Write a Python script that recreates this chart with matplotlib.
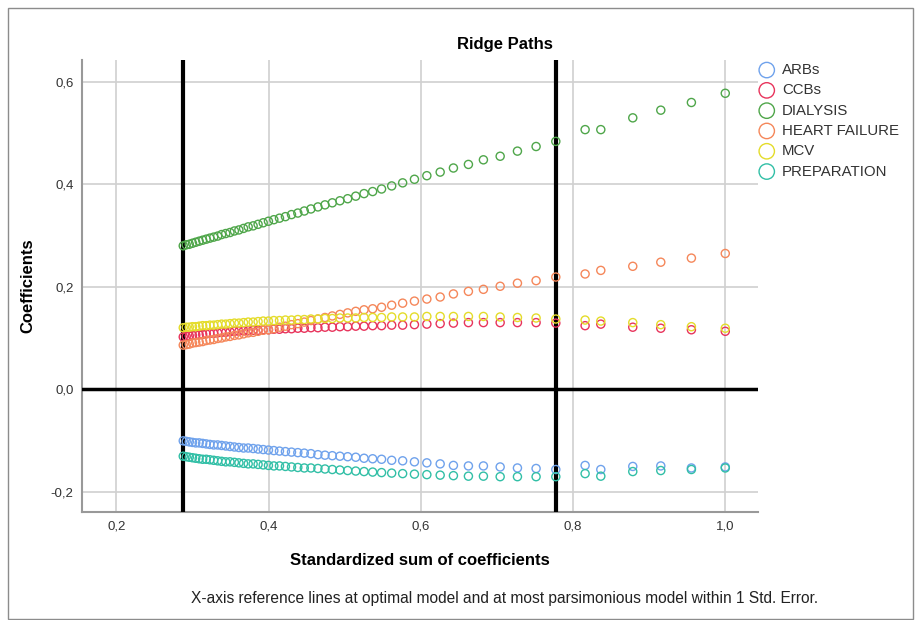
import matplotlib.pyplot as plt
from matplotlib.patches import Rectangle
from matplotlib.ticker import FuncFormatter

plt.rcParams['font.family'] = ['Liberation Sans', 'DejaVu Sans']

# standardized sum of coefficients (x position of each ridge step)
std_sum = [0.2880, 0.2919, 0.2959, 0.3001, 0.3044, 0.3089, 0.3135, 0.3182, 0.3230, 0.3280,
           0.3332, 0.3384, 0.3438, 0.3494, 0.3552, 0.3611, 0.3672, 0.3733, 0.3798, 0.3863,
           0.3930, 0.3999, 0.4070, 0.4144, 0.4222, 0.4302, 0.4385, 0.4470, 0.4557, 0.4649,
           0.4742, 0.4838, 0.4938, 0.5040, 0.5146, 0.5255, 0.5368, 0.5485, 0.5618, 0.5762,
           0.5917, 0.6080, 0.6255, 0.6429, 0.6626, 0.6823, 0.7043, 0.7270, 0.7515, 0.7774,
           0.8159, 0.8365, 0.8785, 0.9153, 0.9555, 1.0000]

arbs = [-0.101, -0.102, -0.103, -0.104, -0.105, -0.105, -0.106, -0.107, -0.108, -0.109,
        -0.109, -0.110, -0.111, -0.112, -0.113, -0.114, -0.115, -0.115, -0.116, -0.117,
        -0.118, -0.119, -0.120, -0.121, -0.122, -0.123, -0.124, -0.125, -0.126, -0.128,
        -0.129, -0.130, -0.131, -0.132, -0.133, -0.135, -0.136, -0.137, -0.139, -0.140,
        -0.142, -0.144, -0.146, -0.149, -0.150, -0.150, -0.152, -0.154, -0.155, -0.157,
        -0.149, -0.157, -0.151, -0.150, -0.154, -0.152]

ccbs = [0.102, 0.103, 0.104, 0.105, 0.106, 0.106, 0.107, 0.108, 0.109, 0.109,
        0.110, 0.111, 0.111, 0.112, 0.113, 0.113, 0.114, 0.114, 0.115, 0.115,
        0.116, 0.116, 0.117, 0.117, 0.118, 0.118, 0.119, 0.119, 0.120, 0.120,
        0.121, 0.121, 0.122, 0.122, 0.123, 0.123, 0.124, 0.124, 0.125, 0.125,
        0.126, 0.127, 0.128, 0.129, 0.130, 0.130, 0.130, 0.130, 0.130, 0.129,
        0.124, 0.127, 0.121, 0.119, 0.116, 0.113]

dialysis = [0.280, 0.282, 0.283, 0.285, 0.287, 0.289, 0.291, 0.293, 0.295, 0.297,
            0.299, 0.302, 0.304, 0.306, 0.309, 0.311, 0.314, 0.317, 0.319, 0.322,
            0.325, 0.328, 0.331, 0.334, 0.337, 0.341, 0.344, 0.348, 0.352, 0.356,
            0.360, 0.364, 0.368, 0.372, 0.377, 0.382, 0.386, 0.391, 0.397, 0.403,
            0.410, 0.417, 0.424, 0.432, 0.439, 0.448, 0.455, 0.465, 0.474, 0.484,
            0.507, 0.507, 0.530, 0.545, 0.560, 0.578]

heart_failure = [0.086, 0.087, 0.088, 0.090, 0.091, 0.092, 0.093, 0.095, 0.096, 0.097,
                 0.099, 0.100, 0.102, 0.103, 0.105, 0.106, 0.108, 0.110, 0.111, 0.113,
                 0.115, 0.116, 0.118, 0.121, 0.123, 0.126, 0.128, 0.131, 0.134, 0.137,
                 0.140, 0.143, 0.146, 0.149, 0.152, 0.155, 0.157, 0.160, 0.164, 0.168,
                 0.172, 0.176, 0.180, 0.186, 0.191, 0.195, 0.201, 0.207, 0.212, 0.219,
                 0.225, 0.232, 0.240, 0.248, 0.256, 0.265]

mcv = [0.120, 0.121, 0.121, 0.122, 0.122, 0.123, 0.124, 0.124, 0.125, 0.125,
       0.126, 0.127, 0.127, 0.128, 0.129, 0.129, 0.130, 0.131, 0.131, 0.132,
       0.133, 0.133, 0.134, 0.134, 0.135, 0.135, 0.136, 0.136, 0.137, 0.137,
       0.138, 0.138, 0.139, 0.139, 0.139, 0.140, 0.140, 0.140, 0.141, 0.141,
       0.141, 0.142, 0.142, 0.142, 0.142, 0.142, 0.141, 0.140, 0.139, 0.137,
       0.135, 0.133, 0.130, 0.126, 0.122, 0.119]

preparation = [-0.131, -0.132, -0.133, -0.134, -0.135, -0.136, -0.137, -0.137, -0.138, -0.139,
               -0.140, -0.141, -0.142, -0.142, -0.143, -0.144, -0.145, -0.146, -0.146, -0.147,
               -0.148, -0.149, -0.150, -0.150, -0.151, -0.152, -0.153, -0.154, -0.154, -0.155,
               -0.156, -0.157, -0.158, -0.159, -0.160, -0.161, -0.162, -0.163, -0.164, -0.165,
               -0.166, -0.167, -0.168, -0.169, -0.170, -0.170, -0.171, -0.171, -0.171, -0.171,
               -0.165, -0.170, -0.161, -0.159, -0.157, -0.154]

labels = ["ARBs", "CCBs", "DIALYSIS", "HEART FAILURE", "MCV", "PREPARATION"]
series = [arbs, ccbs, dialysis, heart_failure, mcv, preparation]
colors = ["#6fa2ec", "#e8345c", "#4fa64a", "#f5875a", "#e4dc2a", "#31bfa6"]

# reference lines: optimal model and most parsimonious within 1 SE
ref_x = [0.288, 0.778]

fig = plt.figure(figsize=(9.21, 6.2), dpi=100)
ax = fig.add_axes([82 / 921, 1 - 512 / 620, (758 - 82) / 921, (512 - 60) / 620])

# outer frame
fig.patches.append(Rectangle((8 / 921, 1 / 620), 905 / 921, 611 / 620, transform=fig.transFigure,
                             fill=False, edgecolor='#8c8c8c', linewidth=1))

for lab, ys, c in zip(labels, series, colors):
    ax.scatter(std_sum, ys, s=34, facecolors='none', edgecolors=c, linewidths=1.0,
               label=lab, zorder=4)

for xv in ref_x:
    ax.axvline(xv, color='black', linewidth=3, zorder=3)
ax.axhline(0, color='black', linewidth=2.5, zorder=3)

ax.set_xlim(0.155, 1.043)
ax.set_ylim(-0.24, 0.643)
ax.set_xticks([0.2, 0.4, 0.6, 0.8, 1.0])
ax.set_yticks([-0.2, 0.0, 0.2, 0.4, 0.6])
fmt = FuncFormatter(lambda v, p: f"{v:.1f}".replace('.', ','))
ax.xaxis.set_major_formatter(fmt)
ax.yaxis.set_major_formatter(fmt)
ax.tick_params(length=0, labelsize=9.5, labelcolor='#333333')
ax.tick_params(axis='x', pad=6)
ax.tick_params(axis='y', pad=6)
ax.grid(True, color='#d0d0d0', linewidth=1.2, zorder=0)
ax.set_axisbelow(True)
for side in ['top', 'right']:
    ax.spines[side].set_visible(False)
for side in ['left', 'bottom']:
    ax.spines[side].set_color('#999999')
    ax.spines[side].set_linewidth(1.5)

ax.set_xlabel("Standardized sum of coefficients", fontsize=12, fontweight='bold', labelpad=15)
ax.set_ylabel("Coefficients", fontsize=12, fontweight='bold', labelpad=11)

fig.text(505 / 921, 1 - 45 / 620, "Ridge Paths", ha='center', va='center',
         fontsize=12, fontweight='bold')
fig.text(505 / 921, 1 - 598 / 620,
         "X-axis reference lines at optimal model and at most parsimonious model within 1 Std. Error.",
         ha='center', va='center', fontsize=11.2, color='#222222')

fig.legend(loc='upper left', bbox_to_anchor=(760 / 921, 1 - 63 / 620), frameon=False,
           markerscale=1.9, handlelength=0.9, handletextpad=0.55, labelspacing=0.42,
           borderpad=0, borderaxespad=0, fontsize=10.8, labelcolor='#333333')

plt.savefig("out.png", dpi=100)
